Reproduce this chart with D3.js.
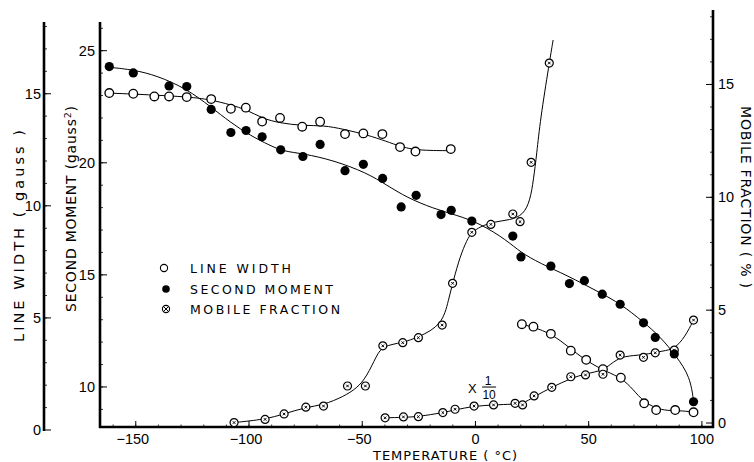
<!DOCTYPE html>
<html>
<head>
<meta charset="utf-8">
<script src="https://cdn.jsdelivr.net/npm/d3@7"></script>
<style>
html,body{margin:0;padding:0;background:#fff;}
svg{display:block;}
text{font-family:"Liberation Sans",Arial,sans-serif;fill:#000;}
.ttl{font-family:"DejaVu Sans","Liberation Sans",sans-serif;}
</style>
</head>
<body>
<svg id="chart" width="754" height="462"></svg>
<script>
// ---------------- DATA ----------------
// Line width (gauss) – open circles
const lwTemp = [-161.7,-151.1,-141.8,-135.3,-127.5,-116.7,-108.0,-101.4,-94.2,-86.3,-76.5,-68.6,-57.6,-49.5,-41.1,-33.3,-26.5,-10.9,
                20.5,25.6,33.3,42.1,48.9,56.3,64.2,74.5,79.8,88.2,96.3];
const lwVal  = [15.03,15.0,14.88,14.88,14.85,14.76,14.33,14.38,13.76,13.92,13.53,13.75,13.20,13.23,13.20,12.62,12.42,12.53,
                4.72,4.61,4.29,3.54,3.13,2.71,2.33,1.19,0.89,0.89,0.79];
// Second moment (gauss^2) – filled circles
const smTemp = [-161.7,-151.1,-135.3,-127.5,-116.7,-108.0,-101.3,-94.2,-86.0,-76.2,-68.6,-57.6,-49.5,-41.0,-32.8,-26.2,-15.2,-10.7,-1.6,16.5,20.1,33.3,41.5,48.1,56.0,63.9,74.2,79.4,87.8,96.3];
const smVal  = [24.29,24.01,23.43,23.40,22.38,21.35,21.44,21.16,20.58,20.28,20.82,19.65,19.93,19.30,18.03,18.55,17.69,17.88,17.40,16.73,15.80,15.39,14.61,14.74,14.14,13.69,12.86,12.21,11.47,9.34];
// Mobile fraction (%) – crossed circles
const mfTemp = [-106.6,-92.9,-84.5,-74.9,-67.1,-56.5,-48.6,-40.9,-32.1,-25.2,-14.7,-10.1,-1.6,6.8,16.5,19.7,24.6,32.6];
const mfVal  = [0.02,0.16,0.40,0.70,0.75,1.64,1.64,3.42,3.56,3.78,4.34,6.19,8.45,8.80,9.26,8.92,11.55,15.95];
// Mobile fraction x 1/10
const mf10Temp = [-39.9,-31.8,-25.2,-14.4,-9.0,-0.6,8.0,17.5,20.8,25.9,33.7,42.1,48.6,56.3,63.9,74.2,79.4,87.8,96.3];
const mf10Val  = [0.23,0.27,0.28,0.46,0.61,0.75,0.80,0.87,0.80,1.20,1.58,2.05,2.13,2.16,3.01,2.91,3.11,3.23,4.56];

// Hand-drawn smooth curves
const lwFitLowT  = [-161.7,-127.5,-116.7,-108.3,-101.0,-94.2,-86.3,-76.0,-67.1,-58.3,-48.0,-39.1,-33.3,-25.9,-10.9];
const lwFitLowV  = [15.03,14.88,14.73,14.51,14.29,13.90,13.69,13.57,13.59,13.42,13.17,12.87,12.65,12.47,12.46];
const lwFitHighT = [20.5,30.0,37.4,44.8,52.1,58.0,64.7,69.8,74.2,79.8,84.5,91.9,96.3];
const lwFitHighV = [4.72,4.46,4.02,3.39,2.90,2.60,2.31,1.79,1.26,0.97,0.86,0.86,0.79];
const smFitT = [-161.7,-151.1,-140.7,-127.5,-116.7,-108.3,-99.5,-90.7,-84.8,-76.0,-62.7,-48.0,-39.1,-30.3,-18.6,-8.2,2.1,13.9,19.7,28.6,40.4,55.1,63.9,74.2,81.6,88.9,94.8,96.3];
const smFitV = [24.26,24.15,23.89,23.30,22.48,21.81,21.22,20.77,20.51,20.41,20.11,19.55,19.00,18.45,17.96,17.66,17.29,16.54,16.02,15.51,14.98,14.20,13.72,12.90,12.24,11.35,10.45,9.38];
const mfFitT = [-106.6,-92.9,-84.5,-74.9,-67.1,-58.3,-52.4,-48.0,-43.6,-40.9,-32.1,-25.2,-14.7,-11.9,-9.7,-6.8,-3.8,-1.6,2.1,8.0,15.3,21.2,24.2,25.6,27.1,28.6,32.6,34.3];
const mfFitV = [0.02,0.16,0.40,0.70,0.80,1.17,1.54,2.05,3.01,3.42,3.56,3.80,4.34,5.45,6.34,7.37,8.11,8.45,8.70,8.92,8.99,9.22,9.88,10.77,11.95,13.42,15.95,16.97];
const mf10FitT = [-39.9,-31.8,-25.2,-14.4,-9.0,-0.6,8.0,16.8,20.8,25.9,33.7,42.1,49.2,56.3,61.0,65.4,74.2,83.0,87.8,92.6,96.3];
const mf10FitV = [0.23,0.25,0.28,0.46,0.58,0.75,0.80,0.84,0.84,1.17,1.58,1.98,2.20,2.32,2.72,2.97,3.01,3.20,3.27,3.82,4.56];

// Axis ticks / labels
const xMajor  = [-150,-100,-50,0,50,100];
const lwMajor = [0,5,10,15];
const smMajor = [10,15,20,25];
const mfMajor = [0,5,10,15];
const legendItems = ["LINE WIDTH","SECOND MOMENT","MOBILE FRACTION"];

// ---------------- CHART ----------------
const svg = d3.select("#chart");
const X0 = 100, X1 = 713, YB = 427;

const x   = d3.scaleLinear().domain([-165.8, 104.9]).range([X0, X1]);
const yLW = d3.scaleLinear().domain([0, 18.2]).range([430, 22]);
const ySM = d3.scaleLinear().domain([8.08, 26.28]).range([430, 22]);
const yMF = d3.scaleLinear().domain([0, 18.3]).range([423, 10]);

const axW = 2.6;

// Axis lines
svg.append("line").attr("x1",44).attr("x2",44).attr("y1",yLW(18.2)).attr("y2",yLW(0)+1)
  .attr("stroke","#000").attr("stroke-width",axW);
svg.append("line").attr("x1",X0).attr("x2",X0).attr("y1",ySM(26.28)).attr("y2",YB+1)
  .attr("stroke","#000").attr("stroke-width",axW);
svg.append("line").attr("x1",X1).attr("x2",X1).attr("y1",yMF(18.3)).attr("y2",YB+1)
  .attr("stroke","#000").attr("stroke-width",axW);
svg.append("line").attr("x1",X0-1).attr("x2",X1+1).attr("y1",YB).attr("y2",YB)
  .attr("stroke","#000").attr("stroke-width",axW);

function vTicks(scale, xPos, dir, minors, majors, labelDx, anchor){
  const g = svg.append("g");
  g.selectAll("line.mi").data(minors).enter().append("line")
    .attr("x1", xPos).attr("x2", xPos + dir*3)
    .attr("y1", d=>scale(d)).attr("y2", d=>scale(d))
    .attr("stroke","#000").attr("stroke-width",0.8);
  g.selectAll("line.ma").data(majors).enter().append("line")
    .attr("x1", xPos).attr("x2", xPos + dir*7)
    .attr("y1", d=>scale(d)).attr("y2", d=>scale(d))
    .attr("stroke","#000").attr("stroke-width",1);
  g.selectAll("text").data(majors).enter().append("text")
    .attr("x", xPos + labelDx).attr("y", d=>scale(d)+5)
    .attr("text-anchor", anchor).attr("font-size",14.5)
    .text(d=>d);
}
vTicks(yLW, 44, 1, d3.range(1,19), lwMajor, -3, "end");
vTicks(ySM, X0, 1, d3.range(9,27), smMajor, -5, "end");
vTicks(yMF, X1, -1, d3.range(1,19), mfMajor, 5, "start");

// X ticks
const gx = svg.append("g");
gx.selectAll("line.mi").data(d3.range(-160,101,10)).enter().append("line")
  .attr("x1", d=>x(d)).attr("x2", d=>x(d)).attr("y1", YB).attr("y2", YB-2.5)
  .attr("stroke","#000").attr("stroke-width",0.8);
gx.selectAll("line.ma").data(xMajor).enter().append("line")
  .attr("x1", d=>x(d)).attr("x2", d=>x(d)).attr("y1", YB).attr("y2", YB-6)
  .attr("stroke","#000").attr("stroke-width",1);
gx.selectAll("text").data(xMajor).enter().append("text")
  .attr("x", d=>x(d) - (d<0?3:0)).attr("y", 444)
  .attr("text-anchor","middle").attr("font-size",14.5)
  .text(d=> d<0 ? "\u2212"+Math.abs(d) : d);

// Axis titles
svg.append("text").attr("class","ttl").attr("x", 445).attr("y", 460).attr("text-anchor","middle")
  .attr("font-size",13).attr("textLength",144).attr("lengthAdjust","spacing")
  .text("TEMPERATURE ( \u00B0C)");
svg.append("text").attr("class","ttl").attr("transform","translate(24,236) rotate(-90)").attr("text-anchor","middle")
  .attr("font-size",14.5).attr("textLength",212).attr("lengthAdjust","spacing")
  .text("LINE  WIDTH ( gauss )");
const smt = svg.append("text").attr("class","ttl").attr("transform","translate(76,209) rotate(-90)").attr("text-anchor","middle")
  .attr("font-size",14).attr("textLength",206).attr("lengthAdjust","spacing");
smt.append("tspan").text("SECOND  MOMENT (gauss");
smt.append("tspan").attr("dy",-5).attr("font-size",9.5).text("2");
smt.append("tspan").attr("dy",5).text(")");
svg.append("text").attr("class","ttl").attr("transform","translate(741,197) rotate(90)").attr("text-anchor","middle")
  .attr("font-size",14).attr("textLength",182).attr("lengthAdjust","spacing")
  .text("MOBILE  FRACTION ( % )");

// Curves
const line = (xs, ys, sy) => d3.line().curve(d3.curveBasis)
  .x((d,i)=>x(xs[i])).y(d=>sy(d))(ys);
const curves = [
  [lwFitLowT, lwFitLowV, yLW],
  [lwFitHighT, lwFitHighV, yLW],
  [smFitT, smFitV, ySM],
  [mfFitT, mfFitV, yMF],
  [mf10FitT, mf10FitV, yMF]
];
curves.forEach(c=>{
  svg.append("path").attr("d", line(c[0], c[1], c[2]))
    .attr("fill","none").attr("stroke","#000").attr("stroke-width",1);
});

// Markers
function openPts(xs, ys, sy){
  svg.append("g").selectAll("circle").data(ys).enter().append("circle")
    .attr("cx",(d,i)=>x(xs[i])).attr("cy",d=>sy(d)).attr("r",4.3)
    .attr("fill","#fff").attr("stroke","#000").attr("stroke-width",1.3);
}
function filledPts(xs, ys, sy){
  svg.append("g").selectAll("circle").data(ys).enter().append("circle")
    .attr("cx",(d,i)=>x(xs[i])).attr("cy",d=>sy(d)).attr("r",4.6)
    .attr("fill","#000");
}
function crossPts(xs, ys, sy){
  const g = svg.append("g").selectAll("g").data(ys).enter().append("g")
    .attr("transform",(d,i)=>`translate(${x(xs[i])},${sy(d)})`);
  g.append("circle").attr("r",4.0).attr("fill","#fff").attr("stroke","#000").attr("stroke-width",1.2);
  g.append("path").attr("d","M-1.3,-1.3L1.3,1.3M-1.3,1.3L1.3,-1.3").attr("stroke","#000").attr("stroke-width",1);
}
openPts(lwTemp, lwVal, yLW);
crossPts(mfTemp, mfVal, yMF);
crossPts(mf10Temp, mf10Val, yMF);
filledPts(smTemp, smVal, ySM);

// "X 1/10" annotation
const ax = x(-0.6), ay = yMF(1.55);
svg.append("text").attr("x", ax-6).attr("y", ay+5).attr("font-size",13).text("X");
svg.append("text").attr("x", ax+14).attr("y", ay-3).attr("font-size",12).attr("text-anchor","middle").text("1");
svg.append("line").attr("x1",ax+8).attr("x2",ax+22).attr("y1",ay-1).attr("y2",ay-1).attr("stroke","#000").attr("stroke-width",1);
svg.append("text").attr("x", ax+15).attr("y", ay+11).attr("font-size",12).attr("text-anchor","middle").text("10");

// Legend
const legY = [268, 289, 309];
const legLen = [101, 143, 150];
const lg = svg.append("g");
lg.append("circle").attr("cx",164).attr("cy",legY[0]).attr("r",3.6).attr("fill","#fff").attr("stroke","#000").attr("stroke-width",1.1);
lg.append("circle").attr("cx",166).attr("cy",legY[1]).attr("r",3.8).attr("fill","#000");
lg.append("circle").attr("cx",166).attr("cy",legY[2]).attr("r",3.6).attr("fill","#fff").attr("stroke","#000").attr("stroke-width",1.1);
lg.append("path").attr("d",`M${166-2.5},${legY[2]-2.5}L${166+2.5},${legY[2]+2.5}M${166-2.5},${legY[2]+2.5}L${166+2.5},${legY[2]-2.5}`)
  .attr("stroke","#000").attr("stroke-width",1);
legendItems.forEach((t,i)=>{
  lg.append("text").attr("class","ttl").attr("x",190).attr("y",legY[i]+5).attr("font-size",12.5)
    .attr("textLength",legLen[i]).attr("lengthAdjust","spacing").text(t);
});
</script>
</body>
</html>
